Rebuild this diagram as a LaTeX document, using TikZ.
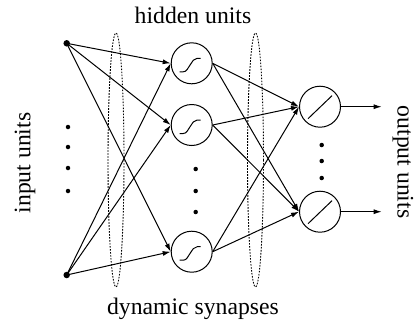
\documentclass[tikz,border=0pt]{standalone}
\usepackage{fontspec}
\setmainfont{Liberation Serif}
\usetikzlibrary{arrows.meta}
\begin{document}
\begin{tikzpicture}[x=1pt,y=-1pt,
  unit/.style={circle,draw,line width=1pt,minimum size=41pt,inner sep=0pt},
  indot/.style={circle,fill,inner sep=0pt,minimum size=6.5pt},
  filler/.style={circle,fill,inner sep=0pt,minimum size=4.5pt},
  conn/.style={line width=1pt,-{Latex[length=8pt,width=5pt]}},
  synapse/.style={line width=0.9pt,dash pattern=on 1.6pt off 1.4pt},
  lbl/.style={font=\fontsize{23.7}{28}\selectfont,inner sep=0pt}]
\useasboundingbox (0,0) rectangle (417,325);
% ellipses
\draw[synapse] (116,160) ellipse [x radius=8,y radius=127];
\draw[synapse] (255.5,160) ellipse [x radius=8,y radius=127];
% input units
\node[indot] (i1) at (66.7,43.3) {};
\node[indot] (i2) at (66.7,275) {};
\foreach \y [count=\k] in {127,147,168,191} \node[filler] (idot\k) at (68,\y) {};
% hidden units
\node[unit] (h1) at (191.7,63.3) {};
\node[unit] (h2) at (191.7,125) {};
\node[unit] (h3) at (191.7,251.7) {};
\foreach \y [count=\k] in {169,191,212} \node[filler] (hdot\k) at (195.7,\y) {};
% output units
\node[unit] (o1) at (320,106.7) {};
\node[unit] (o2) at (320,211.7) {};
\foreach \y [count=\k] in {145,161,178} \node[filler] (odot\k) at (321.7,\y) {};
% sigmoid symbols
\foreach \h in {h1,h2,h3}
  \draw[line width=1pt] ([shift={(-12,8.5)}]\h.center) -- ([shift={(-8.5,8.5)}]\h.center)
    .. controls ([shift={(-5,8.5)}]\h.center) and ([shift={(-4,5)}]\h.center) .. ([shift={(-1.5,1.5)}]\h.center)
    .. controls ([shift={(1,-2)}]\h.center) and ([shift={(2,-5)}]\h.center) .. ([shift={(5.5,-5)}]\h.center)
    -- ([shift={(9,-5)}]\h.center);
% linear symbols
\foreach \o in {o1,o2}
  \draw[line width=1pt] ([shift={(-12,12)}]\o.center) -- ([shift={(12,-11)}]\o.center);
% connections input -> hidden
\foreach \i in {i1,i2}
  \foreach \h in {h1,h2,h3}
    \draw[conn] (\i.center) -- (\h.west);
% connections hidden -> output
\foreach \h in {h1,h2,h3}
  \foreach \o in {o1,o2}
    \draw[conn] (\h.east) -- (\o.west);
% outputs
\coordinate (e1) at (381.7,106.7);
\coordinate (e2) at (381.7,211.7);
\draw[conn] (o1.east) -- (e1);
\draw[conn] (o2.east) -- (e2);
% labels
\node[lbl] (th) at (193,15) {hidden units};
\node[lbl] (td) at (193,309) {dynamic synapses};
\node[lbl,rotate=90] (tin) at (25,163) {input units};
\node[lbl,rotate=-90] (tout) at (403,162) {output units};
\end{tikzpicture}
\end{document}
